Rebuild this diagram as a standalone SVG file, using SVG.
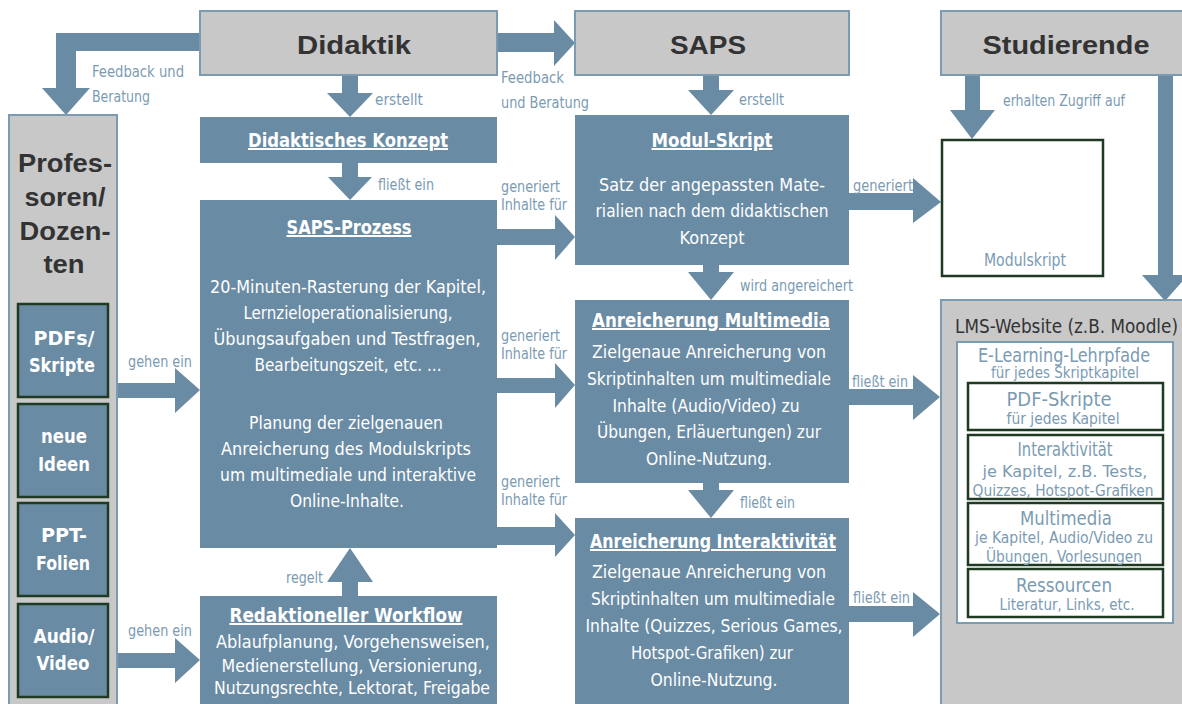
<svg xmlns="http://www.w3.org/2000/svg" width="1182" height="704" viewBox="0 0 1182 704">
<style>
.bg{fill:#ffffff}
.hbox{fill:#c8c8c8;stroke:#7b9bb3;stroke-width:2}
.bbox{fill:#6a8ba4}
.item{fill:#6a8ba4;stroke:#1e3a22;stroke-width:2.5}
.wbox{fill:#ffffff;stroke:#1e3a22;stroke-width:2.5}
.ebox{fill:#ffffff;stroke:#7b9bb3;stroke-width:2}
.arr{fill:#6a8ba4}
text{font-family:"Liberation Sans Narrow","DejaVu Sans Condensed","Liberation Sans",sans-serif}
.hdr{font-family:"Liberation Sans",Arial,sans-serif;font-weight:bold;font-size:26px;fill:#333333;text-anchor:middle}
.prof{font-family:"Liberation Sans",Arial,sans-serif;font-weight:bold;font-size:26px;fill:#333333;text-anchor:middle}
.it{font-weight:bold;font-size:20px;fill:#ffffff;text-anchor:middle}
.lbl{font-size:16px;fill:#7b9bb3}
.lbs{font-size:15px;fill:#7b9bb3}
.ttl{font-weight:bold;font-size:20px;fill:#ffffff;text-anchor:middle;text-decoration:underline}
.bd{font-size:18px;fill:#ffffff;text-anchor:middle}
.et{font-size:19px;fill:#7b9bb3;text-anchor:middle}
.es{font-size:15px;fill:#7b9bb3;text-anchor:middle}
.lms{font-size:19px;fill:#333333}
</style>
<rect class="bg" x="0" y="0" width="1182" height="704"/>

<g id="connectors">
  <!-- Didaktik -> Professoren (Feedback und Beratung) -->
  <polygon class="arr" points="200,33 56,33 56,88 42,88 66,115 90,88 76,88 76,51 200,51"/>
  <!-- Didaktik -> SAPS -->
  <polygon class="arr" points="497,33 554,33 554,20 575,43 554,66 554,52 497,52"/>
  <!-- Didaktik -> Didaktisches Konzept -->
  <polygon class="arr" points="342,75 358,75 358,93 373,93 350,117 327,93 342,93"/>
  <!-- Konzept -> SAPS-Prozess -->
  <polygon class="arr" points="342,163 358,163 358,177 372,177 350,200 328,177 342,177"/>
  <!-- Redaktioneller -> SAPS-Prozess -->
  <polygon class="arr" points="342,596 358,596 358,582 373,582 350,548 327,582 342,582"/>
  <!-- gehen ein 1 -->
  <polygon class="arr" points="117,383 175,383 175,368 200,390 175,413 175,398 117,398"/>
  <!-- gehen ein 2 -->
  <polygon class="arr" points="117,653 175,653 175,638 200,660 175,683 175,668 117,668"/>
  <!-- SAPS-Prozess -> Modul-Skript -->
  <polygon class="arr" points="497,229 555,229 555,215 575,237 555,260 555,245 497,245"/>
  <!-- SAPS-Prozess -> Multimedia -->
  <polygon class="arr" points="497,378 555,378 555,363 575,385 555,408 555,393 497,393"/>
  <!-- SAPS-Prozess -> Interaktivitaet -->
  <polygon class="arr" points="497,527 555,527 555,513 575,535 555,557 555,545 497,545"/>
  <!-- SAPS -> Modul-Skript -->
  <polygon class="arr" points="703,75 719,75 719,90 734,90 711,115 688,90 703,90"/>
  <!-- Modul-Skript -> Multimedia -->
  <polygon class="arr" points="703,265 719,265 719,272 734,272 711,300 688,272 703,272"/>
  <!-- Multimedia -> Interaktivitaet -->
  <polygon class="arr" points="703,483 719,483 719,490 734,490 711,518 688,490 703,490"/>
  <!-- Modul-Skript -> Modulskript -->
  <polygon class="arr" points="849,193 913,193 913,178 941,202 913,223 913,210 849,210"/>
  <!-- Multimedia -> LMS -->
  <polygon class="arr" points="848,389 913,389 913,375 940,397 913,420 913,405 848,405"/>
  <!-- Interaktivitaet -> LMS -->
  <polygon class="arr" points="848,606 913,606 913,592 940,614 913,637 913,622 848,622"/>
  <!-- Studierende -> Modulskript -->
  <polygon class="arr" points="965,75 980,75 980,110 995,110 972,139 950,110 965,110"/>
  <!-- Studierende -> LMS -->
  <polygon class="arr" points="1158,75 1173,75 1173,275 1188,275 1165,301 1142,275 1158,275"/>

  <text class="lbl" x="92" y="77" textLength="92" lengthAdjust="spacingAndGlyphs">Feedback und</text>
  <text class="lbl" x="92" y="102" textLength="58" lengthAdjust="spacingAndGlyphs">Beratung</text>
  <text class="lbl" x="375" y="105" textLength="48" lengthAdjust="spacingAndGlyphs">erstellt</text>
  <text class="lbl" x="501" y="83" textLength="63" lengthAdjust="spacingAndGlyphs">Feedback</text>
  <text class="lbl" x="501" y="108" textLength="88" lengthAdjust="spacingAndGlyphs">und Beratung</text>
  <text class="lbl" x="739" y="105" textLength="45" lengthAdjust="spacingAndGlyphs">erstellt</text>
  <text class="lbl" x="1003" y="106" textLength="122" lengthAdjust="spacingAndGlyphs">erhalten Zugriff auf</text>
  <text class="lbl" x="378" y="190" textLength="56" lengthAdjust="spacingAndGlyphs">fließt ein</text>
  <text class="lbs" x="501" y="192" textLength="59" lengthAdjust="spacingAndGlyphs">generiert</text>
  <text class="lbs" x="501" y="210" textLength="66" lengthAdjust="spacingAndGlyphs">Inhalte für</text>
  <text class="lbl" x="853" y="191" textLength="60" lengthAdjust="spacingAndGlyphs">generiert</text>
  <text class="lbl" x="740" y="291" textLength="113" lengthAdjust="spacingAndGlyphs">wird angereichert</text>
  <text class="lbs" x="501" y="341" textLength="59" lengthAdjust="spacingAndGlyphs">generiert</text>
  <text class="lbs" x="501" y="359" textLength="66" lengthAdjust="spacingAndGlyphs">Inhalte für</text>
  <text class="lbl" x="128" y="367" textLength="64" lengthAdjust="spacingAndGlyphs">gehen ein</text>
  <text class="lbl" x="852" y="387" textLength="56" lengthAdjust="spacingAndGlyphs">fließt ein</text>
  <text class="lbs" x="501" y="487" textLength="59" lengthAdjust="spacingAndGlyphs">generiert</text>
  <text class="lbs" x="501" y="505" textLength="66" lengthAdjust="spacingAndGlyphs">Inhalte für</text>
  <text class="lbl" x="740" y="508" textLength="55" lengthAdjust="spacingAndGlyphs">fließt ein</text>
  <text class="lbl" x="286" y="583" textLength="37" lengthAdjust="spacingAndGlyphs">regelt</text>
  <text class="lbl" x="853" y="603" textLength="57" lengthAdjust="spacingAndGlyphs">fließt ein</text>
  <text class="lbl" x="128" y="636" textLength="64" lengthAdjust="spacingAndGlyphs">gehen ein</text>
</g>

<g id="didaktik">
  <rect class="hbox" x="200" y="11" width="297" height="64"/>
  <text class="hdr" x="354" y="54" textLength="114" lengthAdjust="spacingAndGlyphs">Didaktik</text>
</g>
<g id="saps">
  <rect class="hbox" x="575" y="11" width="274" height="64"/>
  <text class="hdr" x="708" y="54" textLength="76" lengthAdjust="spacingAndGlyphs">SAPS</text>
</g>
<g id="studierende">
  <rect class="hbox" x="941" y="11" width="250" height="64"/>
  <text class="hdr" x="1066" y="54" textLength="167" lengthAdjust="spacingAndGlyphs">Studierende</text>
</g>

<g id="professoren">
  <rect class="hbox" x="9" y="115" width="108" height="600"/>
  <text class="prof" x="65" y="172" textLength="94" lengthAdjust="spacingAndGlyphs">Profes-</text>
  <text class="prof" x="65" y="206" textLength="81" lengthAdjust="spacingAndGlyphs">soren/</text>
  <text class="prof" x="65" y="240" textLength="91" lengthAdjust="spacingAndGlyphs">Dozen-</text>
  <text class="prof" x="64" y="273" textLength="41" lengthAdjust="spacingAndGlyphs">ten</text>
</g>
<g id="pdfs">
  <rect class="item" x="18" y="304" width="90" height="93"/>
  <text class="it" x="64" y="345" textLength="61" lengthAdjust="spacingAndGlyphs">PDFs/</text>
  <text class="it" x="62" y="372" textLength="66" lengthAdjust="spacingAndGlyphs">Skripte</text>
</g>
<g id="ideen">
  <rect class="item" x="18" y="404" width="90" height="93"/>
  <text class="it" x="64" y="443" textLength="46" lengthAdjust="spacingAndGlyphs">neue</text>
  <text class="it" x="64" y="471" textLength="52" lengthAdjust="spacingAndGlyphs">Ideen</text>
</g>
<g id="ppt">
  <rect class="item" x="18" y="503" width="90" height="93"/>
  <text class="it" x="64" y="542" textLength="46" lengthAdjust="spacingAndGlyphs">PPT-</text>
  <text class="it" x="63" y="570" textLength="54" lengthAdjust="spacingAndGlyphs">Folien</text>
</g>
<g id="audio">
  <rect class="item" x="18" y="604" width="90" height="93"/>
  <text class="it" x="64" y="643" textLength="61" lengthAdjust="spacingAndGlyphs">Audio/</text>
  <text class="it" x="63" y="670" textLength="53" lengthAdjust="spacingAndGlyphs">Video</text>
</g>

<g id="konzept">
  <rect class="bbox" x="200" y="117" width="297" height="46"/>
  <text class="ttl" x="348" y="147" textLength="200" lengthAdjust="spacingAndGlyphs">Didaktisches Konzept</text>
</g>
<g id="saps-prozess">
  <rect class="bbox" x="200" y="200" width="297" height="348"/>
  <text class="ttl" x="349" y="234" textLength="125" lengthAdjust="spacingAndGlyphs">SAPS-Prozess</text>
  <text class="bd" x="348" y="293" textLength="276" lengthAdjust="spacingAndGlyphs">20-Minuten-Rasterung der Kapitel,</text>
  <text class="bd" x="348" y="319" textLength="209" lengthAdjust="spacingAndGlyphs">Lernzieloperationalisierung,</text>
  <text class="bd" x="347" y="345" textLength="267" lengthAdjust="spacingAndGlyphs">Übungsaufgaben und Testfragen,</text>
  <text class="bd" x="348" y="371" textLength="187" lengthAdjust="spacingAndGlyphs">Bearbeitungszeit, etc. ...</text>
  <text class="bd" x="346" y="429" textLength="194" lengthAdjust="spacingAndGlyphs">Planung der zielgenauen</text>
  <text class="bd" x="346" y="455" textLength="250" lengthAdjust="spacingAndGlyphs">Anreicherung des Modulskripts</text>
  <text class="bd" x="348" y="481" textLength="256" lengthAdjust="spacingAndGlyphs">um multimediale und interaktive</text>
  <text class="bd" x="347" y="507" textLength="114" lengthAdjust="spacingAndGlyphs">Online-Inhalte.</text>
</g>
<g id="workflow">
  <rect class="bbox" x="200" y="596" width="297" height="115"/>
  <text class="ttl" x="346" y="622" textLength="233" lengthAdjust="spacingAndGlyphs">Redaktioneller Workflow</text>
  <text class="bd" x="353" y="648" textLength="274" lengthAdjust="spacingAndGlyphs">Ablaufplanung, Vorgehensweisen,</text>
  <text class="bd" x="352" y="672" textLength="261" lengthAdjust="spacingAndGlyphs">Medienerstellung, Versionierung,</text>
  <text class="bd" x="352" y="694" textLength="276" lengthAdjust="spacingAndGlyphs">Nutzungsrechte, Lektorat, Freigabe</text>
</g>

<g id="modul-skript">
  <rect class="bbox" x="575" y="115" width="274" height="150"/>
  <text class="ttl" x="712" y="147" textLength="121" lengthAdjust="spacingAndGlyphs">Modul-Skript</text>
  <text class="bd" x="712" y="191" textLength="226" lengthAdjust="spacingAndGlyphs">Satz der angepassten Mate-</text>
  <text class="bd" x="712" y="217" textLength="233" lengthAdjust="spacingAndGlyphs">rialien nach dem didaktischen</text>
  <text class="bd" x="712" y="244" textLength="65" lengthAdjust="spacingAndGlyphs">Konzept</text>
</g>
<g id="multimedia">
  <rect class="bbox" x="575" y="300" width="274" height="183"/>
  <text class="ttl" x="711" y="327" textLength="238" lengthAdjust="spacingAndGlyphs">Anreicherung Multimedia</text>
  <text class="bd" x="709" y="358" textLength="234" lengthAdjust="spacingAndGlyphs">Zielgenaue Anreicherung von</text>
  <text class="bd" x="709" y="385" textLength="244" lengthAdjust="spacingAndGlyphs">Skriptinhalten um multimediale</text>
  <text class="bd" x="706" y="412" textLength="187" lengthAdjust="spacingAndGlyphs">Inhalte (Audio/Video) zu</text>
  <text class="bd" x="709" y="438" textLength="224" lengthAdjust="spacingAndGlyphs">Übungen, Erläuertungen) zur</text>
  <text class="bd" x="709" y="465" textLength="126" lengthAdjust="spacingAndGlyphs">Online-Nutzung.</text>
</g>
<g id="interaktivitaet">
  <rect class="bbox" x="575" y="518" width="274" height="193"/>
  <text class="ttl" x="713" y="548" textLength="246" lengthAdjust="spacingAndGlyphs">Anreicherung Interaktivität</text>
  <text class="bd" x="709" y="578" textLength="234" lengthAdjust="spacingAndGlyphs">Zielgenaue Anreicherung von</text>
  <text class="bd" x="713" y="605" textLength="244" lengthAdjust="spacingAndGlyphs">Skriptinhalten um multimediale</text>
  <text class="bd" x="714" y="632" textLength="257" lengthAdjust="spacingAndGlyphs">Inhalte (Quizzes, Serious Games,</text>
  <text class="bd" x="712" y="659" textLength="162" lengthAdjust="spacingAndGlyphs">Hotspot-Grafiken) zur</text>
  <text class="bd" x="714" y="686" textLength="127" lengthAdjust="spacingAndGlyphs">Online-Nutzung.</text>
</g>

<g id="modulskript">
  <rect class="wbox" x="942" y="140" width="161" height="136"/>
  <text class="et" x="1025" y="266" style="font-size:17px" textLength="82" lengthAdjust="spacingAndGlyphs">Modulskript</text>
</g>

<g id="lms">
  <rect class="hbox" x="941" y="300" width="250" height="415"/>
  <text class="lms" x="955" y="333" textLength="223" lengthAdjust="spacingAndGlyphs">LMS-Website (z.B. Moodle)</text>
  <rect class="ebox" x="957" y="342" width="216" height="281"/>
  <text class="et" x="1064" y="362" textLength="172" lengthAdjust="spacingAndGlyphs">E-Learning-Lehrpfade</text>
  <text class="es" x="1065" y="378" textLength="148" lengthAdjust="spacingAndGlyphs">für jedes Skriptkapitel</text>
  <g id="lms-pdf">
    <rect class="wbox" x="968" y="383" width="195" height="47"/>
    <text class="et" x="1059" y="406" textLength="105" lengthAdjust="spacingAndGlyphs">PDF-Skripte</text>
    <text class="es" x="1063" y="424" textLength="113" lengthAdjust="spacingAndGlyphs">für jedes Kapitel</text>
  </g>
  <g id="lms-interaktiv">
    <rect class="wbox" x="968" y="435" width="195" height="64"/>
    <text class="et" x="1065" y="456" textLength="95" lengthAdjust="spacingAndGlyphs">Interaktivität</text>
    <text class="es" x="1065" y="477" textLength="165" lengthAdjust="spacingAndGlyphs">je Kapitel, z.B. Tests,</text>
    <text class="es" x="1063" y="496" textLength="181" lengthAdjust="spacingAndGlyphs">Quizzes, Hotspot-Grafiken</text>
  </g>
  <g id="lms-multimedia">
    <rect class="wbox" x="968" y="503" width="195" height="62"/>
    <text class="et" x="1066" y="525" textLength="92" lengthAdjust="spacingAndGlyphs">Multimedia</text>
    <text class="es" x="1064" y="543" textLength="178" lengthAdjust="spacingAndGlyphs">je Kapitel, Audio/Video zu</text>
    <text class="es" x="1064" y="562" textLength="156" lengthAdjust="spacingAndGlyphs">Übungen, Vorlesungen</text>
  </g>
  <g id="lms-ressourcen">
    <rect class="wbox" x="968" y="569" width="195" height="48"/>
    <text class="et" x="1064" y="592" textLength="96" lengthAdjust="spacingAndGlyphs">Ressourcen</text>
    <text class="es" x="1067" y="610" textLength="135" lengthAdjust="spacingAndGlyphs">Literatur, Links, etc.</text>
  </g>
</g>
</svg>
